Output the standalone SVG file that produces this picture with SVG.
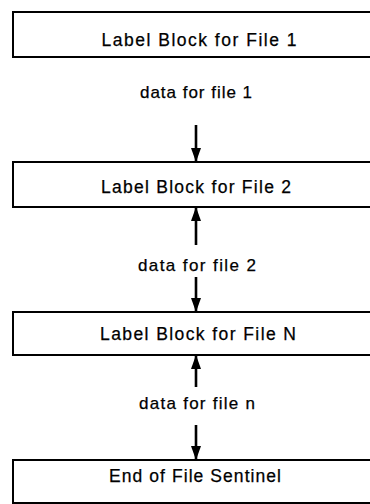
<svg xmlns="http://www.w3.org/2000/svg" width="370" height="504" viewBox="0 0 370 504">
<style>
.box{fill:#fff;stroke:#000;stroke-width:2}
.lbl{font-family:"Liberation Sans",Arial,sans-serif;font-size:17.5px;fill:#000;stroke:#000;stroke-width:0.25;text-anchor:middle}
.dat{font-family:"Liberation Sans",Arial,sans-serif;font-size:17px;fill:#000;stroke:#000;stroke-width:0.25;text-anchor:middle}
.conn{stroke:#000;stroke-width:2.6;fill:none}
</style>
<defs>
<marker id="ah" markerUnits="userSpaceOnUse" markerWidth="14" markerHeight="12" refX="14" refY="5" orient="auto">
<path d="M0,0 L14,5 L0,10 Z" fill="#000"/>
</marker>
</defs>
<rect width="370" height="504" fill="#fff"/>
<g id="connectors">
<line class="conn" x1="196" y1="125" x2="196" y2="162" marker-end="url(#ah)"/>
<line class="conn" x1="196" y1="245" x2="196" y2="207" marker-end="url(#ah)"/>
<line class="conn" x1="196" y1="277" x2="196" y2="312" marker-end="url(#ah)"/>
<line class="conn" x1="196" y1="387" x2="196" y2="355" marker-end="url(#ah)"/>
<line class="conn" x1="196" y1="425" x2="196" y2="460" marker-end="url(#ah)"/>
</g>
<g id="file1">
<rect class="box" x="13" y="12" width="380" height="45"/>
<text class="lbl" x="199" y="46" textLength="195" lengthAdjust="spacing">Label Block for File 1</text>
</g>
<g id="data1">
<text class="dat" x="196" y="98" textLength="112" lengthAdjust="spacing">data for file 1</text>
</g>
<g id="file2">
<rect class="box" x="13" y="162" width="380" height="45"/>
<text class="lbl" x="196" y="193" textLength="190" lengthAdjust="spacing">Label Block for File 2</text>
</g>
<g id="data2">
<text class="dat" x="197" y="271" textLength="118" lengthAdjust="spacing">data for file 2</text>
</g>
<g id="fileN">
<rect class="box" x="13" y="312" width="380" height="43"/>
<text class="lbl" x="198" y="340" textLength="196" lengthAdjust="spacing">Label Block for File N</text>
</g>
<g id="datan">
<text class="dat" x="197" y="409" textLength="116" lengthAdjust="spacing">data for file n</text>
</g>
<g id="sentinel">
<rect class="box" x="13" y="460" width="380" height="43"/>
<text class="lbl" x="195" y="482" textLength="172" lengthAdjust="spacing">End of File Sentinel</text>
</g>
</svg>
